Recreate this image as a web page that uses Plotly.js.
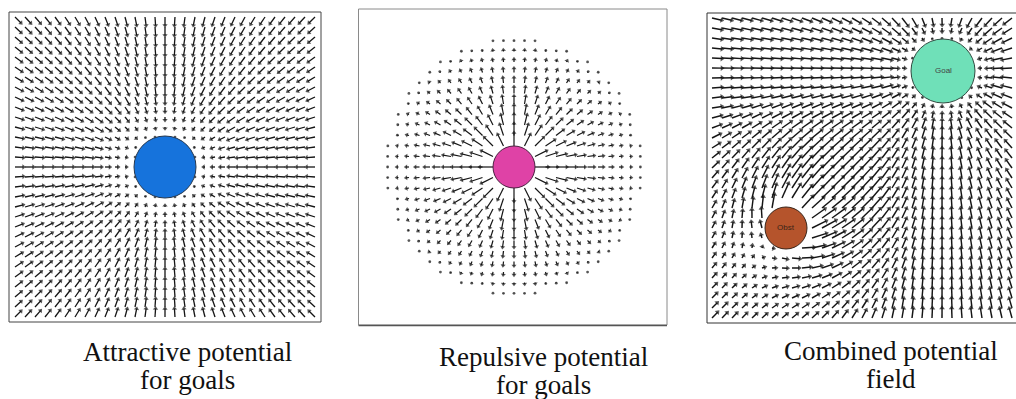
<!DOCTYPE html>
<html><head><meta charset="utf-8">
<script src="https://cdn.plot.ly/plotly-3.0.1.min.js"></script>
<style>html,body{margin:0;padding:0;background:#fff}#chart{width:1016px;height:399px}</style>
</head><body><div id="chart"></div>
<script>
// ---------- Panel 1: attractive potential (grid units) ----------
const gridA = [-15,-14,-13,-12,-11,-10,-9,-8,-7,-6,-5,-4,-3,-2,-1,0,1,2,3,4,5,6,7,8,9,10,11,12,13,14,15];
const goalA = [0, 0];
const goalARadius = 3.1;
const goalASpread = 5;
const goalAStep = 0.85;

// ---------- Panel 2: repulsive potential ----------
const gridR = [-12,-11,-10,-9,-8,-7,-6,-5,-4,-3,-2,-1,0,1,2,3,4,5,6,7,8,9,10,11,12];
const obsR = [0, 0];
const obsRRadius = 2.0;
const obsRInfluence = 12.3;
const obsRStep = 1.15;

// ---------- Panel 3: combined potential field ----------
const gridCX = [0.5,1.5,2.5,3.5,4.5,5.5,6.5,7.5,8.5,9.5,10.5,11.5,12.5,13.5,14.5,15.5,16.5,17.5,18.5,19.5,20.5,21.5,22.5,23.5,24.5,25.5,26.5,27.5,28.5,29.5,30.5];
const gridCY = [0.5,1.5,2.5,3.5,4.5,5.5,6.5,7.5,8.5,9.5,10.5,11.5,12.5,13.5,14.5,15.5,16.5,17.5,18.5,19.5,20.5,21.5,22.5,23.5,24.5,25.5,26.5,27.5,28.5,29.5,30.5];
const goalC = [23.6, 25.2];
const goalCRadius = 3.2;
const goalCSpread = 3;
const goalCStep = 1.0;
const obsC = [7.9, 9.5];
const obsCRadius = 2.1;
const obsCInfluence = 14;
const obsCGain = 0.08;
const maxStepC = 1.6;

const captionLines = [
  {text: 'Attractive potential', x: 187, y: 352},
  {text: 'for goals', x: 187, y: 380},
  {text: 'Repulsive potential', x: 543, y: 357},
  {text: 'for goals', x: 543, y: 385},
  {text: 'Combined potential', x: 891, y: 351},
  {text: 'field', x: 891, y: 379}
];
const circleLabels = ['Goal', 'Obst'];

const W = 1016, H = 399;
const px = v => v / W;
const py = v => 1 - v / H;

function attract(x, y, g, r, s, step) {
  const dx = g[0] - x, dy = g[1] - y, d = Math.hypot(dx, dy);
  if (d < r) return [0, 0];
  const m = (d < r + s) ? step * (d - r) / s : step;
  return [m * dx / d, m * dy / d];
}
function repel(x, y, o, r, inf, gain) {
  const dx = x - o[0], dy = y - o[1], d = Math.hypot(dx, dy);
  if (d >= inf || d === 0) return [0, 0];
  const m = gain * (inf - Math.max(d, r));
  return [m * dx / d, m * dy / d];
}

function build(points, xa, ya, lw, hs) {
  const lx = [], ly = [], hx = [], hy = [], ang = [], sym = [], sz = [];
  points.forEach(p => {
    const L = Math.hypot(p.dx, p.dy);
    lx.push(p.x, p.x + p.dx, null); ly.push(p.y, p.y + p.dy, null);
    hx.push(p.x + p.dx); hy.push(p.y + p.dy);
    ang.push(Math.atan2(p.dx, p.dy) * 180 / Math.PI);
    if (L < 0.12) { sym.push('circle'); sz.push(2.8); }
    else { sym.push('triangle-up'); sz.push(hs); }
  });
  return [
    {type: 'scatter', mode: 'lines', x: lx, y: ly, xaxis: xa, yaxis: ya,
     line: {color: '#151515', width: lw}, hoverinfo: 'skip', showlegend: false},
    {type: 'scatter', mode: 'markers', x: hx, y: hy, xaxis: xa, yaxis: ya,
     marker: {symbol: sym, size: sz, angle: ang, color: '#111', line: {width: 0}},
     hoverinfo: 'skip', showlegend: false}
  ];
}

// panel 1
const ptsA = [];
gridA.forEach(x => gridA.forEach(y => {
  const v = attract(x, y, goalA, goalARadius, goalASpread, goalAStep);
  if (Math.hypot(x - goalA[0], y - goalA[1]) >= goalARadius) ptsA.push({x, y, dx: v[0], dy: v[1]});
}));
// panel 2
const ptsR = [];
gridR.forEach(x => gridR.forEach(y => {
  const d = Math.hypot(x - obsR[0], y - obsR[1]);
  if (d > obsRInfluence || d < obsRRadius) return;
  const v = repel(x, y, obsR, obsRRadius, obsRInfluence, obsRStep / (obsRInfluence - obsRRadius - 1));
  ptsR.push({x, y, dx: v[0], dy: v[1]});
}));
// panel 3
const ptsC = [];
gridCX.forEach(x => gridCY.forEach(y => {
  if (Math.hypot(x - goalC[0], y - goalC[1]) < goalCRadius) return;
  if (Math.hypot(x - obsC[0], y - obsC[1]) < obsCRadius) return;
  const a = attract(x, y, goalC, goalCRadius, goalCSpread, goalCStep);
  const r = repel(x, y, obsC, obsCRadius, obsCInfluence, obsCGain);
  let dx = a[0] + r[0], dy = a[1] + r[1];
  const L = Math.hypot(dx, dy);
  if (L > maxStepC) { dx *= maxStepC / L; dy *= maxStepC / L; }
  ptsC.push({x, y, dx, dy});
}));

const data = [...build(ptsA, 'x', 'y', 1.3, 4.6), ...build(ptsR, 'x2', 'y2', 1.2, 4.4), ...build(ptsC, 'x3', 'y3', 1.45, 5)];

const hidden = {visible: false, showgrid: false, zeroline: false, fixedrange: true};
const layout = {
  width: W, height: H, margin: {l: 0, r: 0, t: 0, b: 0},
  paper_bgcolor: '#fff', plot_bgcolor: 'rgba(0,0,0,0)',
  xaxis:  Object.assign({}, hidden, {domain: [px(9), px(321)], range: [-15.6, 15.6], anchor: 'y'}),
  yaxis:  Object.assign({}, hidden, {domain: [py(322), py(12)], range: [-15.5, 15.5], anchor: 'x'}),
  xaxis2: Object.assign({}, hidden, {domain: [px(358), px(667)], range: [(358 - 514) / 10.5, (667 - 514) / 10.5], anchor: 'y2'}),
  yaxis2: Object.assign({}, hidden, {domain: [py(325), py(9)], range: [-15.05, 15.05], anchor: 'x2'}),
  xaxis3: Object.assign({}, hidden, {domain: [px(707), 1], range: [0, 30.9], anchor: 'y3'}),
  yaxis3: Object.assign({}, hidden, {domain: [py(323), py(13)], range: [0, 31], anchor: 'x3'}),
  shapes: [
    {type: 'rect', xref: 'paper', yref: 'paper', x0: px(9), x1: px(321), y0: py(322), y1: py(12), line: {color: '#444', width: 1}},
    {type: 'rect', xref: 'paper', yref: 'paper', x0: px(358.5), x1: px(667), y0: py(325), y1: py(9), line: {color: '#8a8a8a', width: 1}},
    {type: 'line', xref: 'paper', yref: 'paper', x0: px(358.5), x1: px(667), y0: py(325.5), y1: py(325.5), line: {color: '#555', width: 1.5}},
    {type: 'rect', xref: 'paper', yref: 'paper', x0: px(707), x1: px(1030), y0: py(323), y1: py(13), line: {color: '#333', width: 1}},
    {type: 'circle', xref: 'x', yref: 'y', x0: goalA[0] - goalARadius, x1: goalA[0] + goalARadius, y0: goalA[1] - goalARadius, y1: goalA[1] + goalARadius, fillcolor: '#1673dc', line: {color: '#26384f', width: 1}},
    {type: 'circle', xref: 'x2', yref: 'y2', x0: obsR[0] - obsRRadius, x1: obsR[0] + obsRRadius, y0: obsR[1] - obsRRadius, y1: obsR[1] + obsRRadius, fillcolor: '#df42a6', line: {color: '#4a2040', width: 1}},
    {type: 'circle', xref: 'x3', yref: 'y3', x0: goalC[0] - goalCRadius, x1: goalC[0] + goalCRadius, y0: goalC[1] - goalCRadius, y1: goalC[1] + goalCRadius, fillcolor: '#6fe0b8', line: {color: '#2f4a40', width: 1}},
    {type: 'circle', xref: 'x3', yref: 'y3', x0: obsC[0] - obsCRadius, x1: obsC[0] + obsCRadius, y0: obsC[1] - obsCRadius, y1: obsC[1] + obsCRadius, fillcolor: '#b5542c', line: {color: '#3a2418', width: 1}}
  ],
  annotations: [
    ...captionLines.map(c => ({text: c.text, xref: 'paper', yref: 'paper', x: px(c.x), y: py(c.y), showarrow: false, xanchor: 'center', yanchor: 'middle', font: {family: 'Liberation Serif', size: 27, color: '#111'}})),
    {text: circleLabels[0], xref: 'x3', yref: 'y3', x: goalC[0], y: goalC[1], showarrow: false, font: {family: 'Liberation Sans', size: 8, color: '#444'}},
    {text: circleLabels[1], xref: 'x3', yref: 'y3', x: obsC[0], y: obsC[1], showarrow: false, font: {family: 'Liberation Sans', size: 8, color: '#3a2418'}}
  ]
};
Plotly.newPlot('chart', data, layout, {staticPlot: true, displayModeBar: false});
</script></body></html>
